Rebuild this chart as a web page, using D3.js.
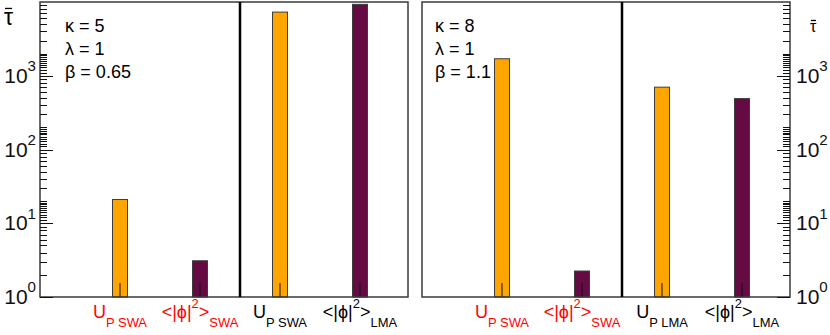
<!DOCTYPE html>
<html>
<head>
<meta charset="utf-8">
<script src="https://cdn.jsdelivr.net/npm/d3@7/dist/d3.min.js"></script>
<style>
  body { margin: 0; background: #fff; }
  svg { display: block; font-family: "Liberation Sans", Arial, Helvetica, sans-serif; }
</style>
</head>
<body>
<svg id="chart"></svg>
<script>
// data
const categoriesLeft = ["U_{P SWA}", "<|ϕ|^{2}>_{SWA}", "U_{P SWA}", "<|ϕ|^{2}>_{LMA}"]
const categoriesRight = ["U_{P SWA}", "<|ϕ|^{2}>_{SWA}", "U_{P LMA}", "<|ϕ|^{2}>_{LMA}"]
const tauLeft = [21, 3.1, 7300, 9300]
const tauRight = [1700, 2.25, 700, 490]
const paramsLeft = ["κ = 5", "λ = 1", "β = 0.65"]
const paramsRight = ["κ = 8", "λ = 1", "β = 1.1"]
const yDecades = [0, 1, 2, 3]

let W = 830, H = 335
let svg = d3.select('#chart').attr('width', W).attr('height', H)

let yTop = 2, yBottom = 297
let y = d3.scaleLog().domain([1, 1e4]).range([yBottom, yTop])

let barColors = ['#ffa500', '#660a44', '#ffa500', '#660a44']
let frameColor = '#3a3a3a'

// tick values: majors, minors (2..9), fine (1.1..1.9, not in first decade)
let majors = yDecades.map(e => Math.pow(10, e))
let minors = []
yDecades.forEach(e => {
  for (let k = 2; k <= 9; k++) minors.push(k * Math.pow(10, e))
  if (e > 0) for (let k = 11; k <= 19; k++) minors.push(k / 10 * Math.pow(10, e))
})

// parse "A_{sub}" / "A^{sup}" into tspans
function richText(sel, str, size) {
  let parts = str.split(/(_\{[^}]*\}|\^\{[^}]*\})/).filter(s => s.length)
  let shift = 0
  parts.forEach(p => {
    let t, d = 0, fs = size
    if (p.startsWith('_{')) { t = p.slice(2, -1); d = size * 0.5; fs = size * 0.72 }
    else if (p.startsWith('^{')) { t = p.slice(2, -1); d = -size * 0.55; fs = size * 0.72 }
    else t = p
    sel.append('tspan').attr('dy', d - shift).attr('font-size', fs).text(t)
    shift = d
  })
}

function drawPanel(x0, x1, cats, vals, params, dividerAt, axisSide) {
  let x = d3.scaleLinear().domain([0, 4.6]).range([x0, x1])
  let g = svg.append('g')

  // bars
  g.selectAll('rect.bar').data(vals).enter().append('rect')
    .attr('class', 'bar')
    .attr('x', (d, i) => x(i + 1) - 7.5)
    .attr('width', 15)
    .attr('y', d => y(d))
    .attr('height', d => yBottom - y(d))
    .attr('fill', (d, i) => barColors[i])
    .attr('stroke', '#3c3c3c').attr('stroke-width', 1)

  // x ticks inside bars
  g.selectAll('line.xt').data(vals).enter().append('line')
    .attr('x1', (d, i) => x(i + 1)).attr('x2', (d, i) => x(i + 1))
    .attr('y1', yBottom).attr('y2', yBottom - 14)
    .attr('stroke', '#111').attr('stroke-width', 1)

  // frame
  g.append('rect').attr('x', x0).attr('y', yTop).attr('width', x1 - x0).attr('height', yBottom - yTop)
    .attr('fill', 'none').attr('stroke', frameColor).attr('stroke-width', 1.5)

  // divider
  g.append('line').attr('x1', x(dividerAt)).attr('x2', x(dividerAt))
    .attr('y1', yTop).attr('y2', yBottom)
    .attr('stroke', '#000').attr('stroke-width', 2.5)

  // y axis
  let ax = axisSide === 'left' ? x0 : x1
  let dir = axisSide === 'left' ? 1 : -1
  g.selectAll('line.minor').data(minors).enter().append('line')
    .attr('x1', ax).attr('x2', ax + dir * 7)
    .attr('y1', d => Math.round(y(d)) + 0.5).attr('y2', d => Math.round(y(d)) + 0.5)
    .attr('stroke', '#111').attr('stroke-width', 1)
  g.selectAll('line.major').data(majors).enter().append('line')
    .attr('x1', ax).attr('x2', ax + dir * 13)
    .attr('y1', d => Math.round(y(d)) + 0.5).attr('y2', d => Math.round(y(d)) + 0.5)
    .attr('stroke', '#111').attr('stroke-width', 1)

  g.selectAll('text.ylab').data(yDecades).enter().append('text')
    .attr('x', axisSide === 'left' ? x0 - 4 : x1 + 6)
    .attr('y', d => y(Math.pow(10, d)) + 7)
    .attr('text-anchor', axisSide === 'left' ? 'end' : 'start')
    .attr('font-size', 21).attr('fill', '#111')
    .each(function (d) { richText(d3.select(this), '10^{' + d + '}', 21) })

  // category labels
  g.selectAll('text.xlab').data(cats).enter().append('text')
    .attr('x', (d, i) => x(i + 1))
    .attr('y', 318)
    .attr('text-anchor', 'middle')
    .attr('font-size', 18)
    .attr('fill', (d, i) => i < 2 ? '#ff0000' : '#000')
    .each(function (d) { richText(d3.select(this), d, 18) })

  // parameters
  g.selectAll('text.par').data(params).enter().append('text')
    .attr('x', x0 + (axisSide === 'left' ? 25 : 13))
    .attr('y', (d, i) => 32 + i * 23)
    .attr('font-size', 18).attr('fill', '#000')
    .text(d => d)
}

drawPanel(40, 408, categoriesLeft, tauLeft, paramsLeft, 2.5, 'left')
drawPanel(422, 790, categoriesRight, tauRight, paramsRight, 2.5, 'right')

// tau-bar axis titles
function tauBar(xp, yp, size) {
  let t = svg.append('text').attr('x', xp).attr('y', yp).attr('font-size', size).attr('fill', '#000').text('τ')
  let bb = t.node().getBBox()
  svg.append('line').attr('x1', bb.x + 1).attr('x2', bb.x + bb.width - 1)
    .attr('y1', yp - size * 0.72).attr('y2', yp - size * 0.72)
    .attr('stroke', '#000').attr('stroke-width', 1.3)
}
tauBar(4, 25, 23)
tauBar(810, 32, 16)
</script>
</body>
</html>
